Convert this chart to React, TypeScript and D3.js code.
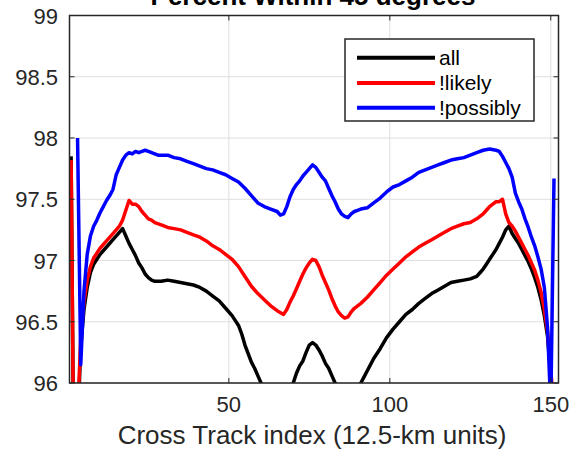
import React from "react";
import * as d3 from "d3";

const W = 573;
const H = 449;

const titleText = "Percent Within 45 degrees";
const xLabelText = "Cross Track index (12.5-km units)";
const xTicks = [50, 100, 150];
const yTicks = [96, 96.5, 97, 97.5, 98, 98.5, 99];
const yTickLabels = ["96", "96.5", "97", "97.5", "98", "98.5", "99"];
const seriesNames = ["all", "!likely", "!possibly"];
const seriesColors = ["#000000", "#ff0000", "#0000ff"];

const allIdx = [1,2,3,4,5,6,7,8,10,12,14,16,17,18,19,20,21,22,23,24,25,26,27,29,31,33,35,37,39,41,43,45,47,49,51,53,54,55,56,57,58,59,60,62,65,68,70,71,72,73,74,75,76,77,78,79,80,81,82,83,85,87,89,91,92,93,94,95,97,99,101,103,105,107,109,111,113,115,117,119,121,123,125,127,128,129,130,131,132,133,134,135,136,137,138,139,140,141,142,143,144,145,146,147,148,149,150,151];
const allVal = [97.85,94.8,95.6,96.3,96.6,96.78,96.9,96.97,97.05,97.11,97.17,97.23,97.26,97.2,97.14,97.09,97.04,96.98,96.94,96.89,96.86,96.84,96.83,96.83,96.84,96.83,96.82,96.81,96.8,96.78,96.75,96.71,96.67,96.61,96.55,96.47,96.4,96.31,96.24,96.17,96.12,96.06,96.0,95.9,95.8,95.9,96.0,96.08,96.14,96.18,96.25,96.31,96.33,96.31,96.27,96.22,96.16,96.12,96.06,96.0,95.85,95.8,95.9,96.0,96.05,96.1,96.15,96.2,96.28,96.37,96.44,96.5,96.56,96.6,96.65,96.69,96.73,96.76,96.79,96.82,96.83,96.84,96.85,96.87,96.9,96.93,96.97,97.01,97.05,97.09,97.14,97.19,97.25,97.28,97.22,97.18,97.14,97.09,97.04,96.99,96.93,96.86,96.78,96.68,96.55,96.38,96.05,95.7];

const likelyIdx = [1,2,3,4,5,6,7,8,10,12,14,16,17,18,19,20,21,22,23,24,25,26,27,29,31,33,35,37,39,41,43,45,47,49,51,53,55,57,59,61,63,65,67,68,69,70,71,72,73,74,75,76,77,78,79,80,81,82,83,84,85,86,87,88,89,90,91,93,95,97,99,101,103,105,107,109,111,113,115,117,119,121,123,125,127,129,130,131,132,133,134,135,136,137,138,139,140,141,142,143,144,145,146,147,148,149,150,151];
const likelyVal = [97.82,94.8,95.7,96.38,96.66,96.84,96.95,97.02,97.1,97.16,97.22,97.28,97.33,97.41,97.49,97.46,97.46,97.44,97.4,97.37,97.34,97.33,97.31,97.29,97.27,97.26,97.25,97.23,97.21,97.19,97.16,97.12,97.09,97.05,97.01,96.95,96.87,96.79,96.73,96.68,96.63,96.59,96.56,96.6,96.66,96.71,96.77,96.83,96.89,96.94,96.98,97.01,97.0,96.95,96.88,96.82,96.76,96.69,96.63,96.58,96.55,96.53,96.54,96.58,96.61,96.63,96.65,96.7,96.76,96.82,96.88,96.93,96.98,97.03,97.07,97.11,97.14,97.17,97.2,97.23,97.26,97.28,97.3,97.31,97.34,97.38,97.41,97.44,97.46,97.48,97.48,97.5,97.38,97.31,97.28,97.24,97.19,97.14,97.09,97.04,96.98,96.92,96.84,96.74,96.6,96.42,96.1,95.8];

const possiblyIdx = [3,4,5,6,7,8,9,10,11,12,13,14,15,16,17,18,19,20,21,22,23,24,25,26,27,28,29,31,33,35,37,39,41,43,45,47,49,51,53,55,57,59,61,63,65,66,67,68,69,70,71,72,73,74,75,76,77,78,79,80,81,82,83,84,85,86,87,88,89,90,91,93,95,97,99,101,103,105,107,109,111,113,115,117,119,121,123,125,127,129,131,133,134,135,136,137,138,139,140,141,142,143,144,145,146,147,148,149,150,151];
const possiblyVal = [98.0,96.15,96.75,97.05,97.2,97.28,97.33,97.39,97.44,97.49,97.53,97.58,97.7,97.76,97.82,97.86,97.88,97.87,97.89,97.88,97.89,97.9,97.89,97.88,97.87,97.86,97.86,97.86,97.84,97.83,97.81,97.79,97.77,97.75,97.74,97.72,97.7,97.67,97.64,97.59,97.53,97.47,97.44,97.42,97.4,97.37,97.38,97.44,97.52,97.58,97.62,97.65,97.69,97.72,97.75,97.78,97.76,97.72,97.68,97.65,97.59,97.53,97.48,97.42,97.38,97.36,97.35,97.38,97.4,97.41,97.42,97.43,97.47,97.51,97.56,97.6,97.62,97.65,97.68,97.72,97.74,97.76,97.78,97.8,97.82,97.83,97.84,97.86,97.88,97.9,97.91,97.9,97.89,97.85,97.8,97.75,97.68,97.55,97.48,97.42,97.34,97.27,97.19,97.12,97.03,96.93,96.78,96.45,95.8,97.67];

const FONT = "'Liberation Sans', Arial, Helvetica, sans-serif";
const AX = "#262626";

export default function App() {
  const left = 69.5, right = 558.5, top = 15.5, bottom = 383;
  const x = d3.scaleLinear().domain([0.5, 152.4]).range([left, right]);
  const y = d3.scaleLinear().domain([96, 99]).range([bottom, top]);

  const series = [
    { name: seriesNames[0], color: seriesColors[0], idx: allIdx, val: allVal },
    { name: seriesNames[1], color: seriesColors[1], idx: likelyIdx, val: likelyVal },
    { name: seriesNames[2], color: seriesColors[2], idx: possiblyIdx, val: possiblyVal },
  ];

  const line = d3
    .line<[number, number]>()
    .x((d) => x(d[0]))
    .y((d) => y(d[1]));

  const tickLen = 5;
  const legX = 345, legY = 39, legW = 189, legH = 82;
  const rowY = [57.7, 83, 107.7];

  return (
    <svg
      width={W}
      height={H}
      style={{ position: "absolute", left: 0, top: 0, background: "#fff" }}
      fontFamily={FONT}
    >
      <defs>
        <clipPath id="plotclip">
          <rect x={left} y={top} width={right - left} height={bottom - top} />
        </clipPath>
      </defs>
      <rect x={0} y={0} width={W} height={H} fill="#fff" />
      {xTicks.map((t) => (
        <line key={"gx" + t} x1={x(t)} x2={x(t)} y1={top} y2={bottom} stroke="#dedede" strokeWidth={1} />
      ))}
      {yTicks.map((t) => (
        <line key={"gy" + t} x1={left} x2={right} y1={y(t)} y2={y(t)} stroke="#dedede" strokeWidth={1} />
      ))}
      <g clipPath="url(#plotclip)">
        {series.map((s) => (
          <path
            key={s.name}
            d={line(s.idx.map((d, i) => [d, s.val[i]] as [number, number])) || ""}
            fill="none"
            stroke={s.color}
            strokeWidth={3.5}
            strokeLinejoin="round"
          />
        ))}
      </g>
      {xTicks.map((t) => (
        <g key={"tx" + t}>
          <line x1={x(t)} x2={x(t)} y1={bottom} y2={bottom - tickLen} stroke={AX} />
          <line x1={x(t)} x2={x(t)} y1={top} y2={top + tickLen} stroke={AX} />
          <text x={x(t)} y={bottom + 29} textAnchor="middle" fontSize={22} fill={AX}>
            {t}
          </text>
        </g>
      ))}
      {yTicks.map((t, i) => (
        <g key={"ty" + t}>
          <line x1={left} x2={left + tickLen} y1={y(t)} y2={y(t)} stroke={AX} />
          <line x1={right} x2={right - tickLen} y1={y(t)} y2={y(t)} stroke={AX} />
          <text x={58} y={y(t) + 8} textAnchor="end" fontSize={22} fill={AX}>
            {yTickLabels[i]}
          </text>
        </g>
      ))}
      <rect x={left} y={top} width={right - left} height={bottom - top} fill="none" stroke={AX} strokeWidth={1.5} />
      <text x={(left + right) / 2 - 2} y={444} textAnchor="middle" fontSize={26} fill={AX}>
        {xLabelText}
      </text>
      <text x={(left + right) / 2 - 1} y={5} textAnchor="middle" fontSize={26} fontWeight="bold" fill="#000">
        {titleText}
      </text>
      <rect x={legX} y={legY} width={legW} height={legH} fill="#fff" stroke={AX} strokeWidth={1.5} />
      {series.map((s, i) => (
        <g key={"leg" + s.name}>
          <line x1={357} x2={435} y1={rowY[i]} y2={rowY[i]} stroke={s.color} strokeWidth={4} />
          <text x={439} y={rowY[i] + 7} fontSize={21} fill="#000">
            {s.name}
          </text>
        </g>
      ))}
    </svg>
  );
}
